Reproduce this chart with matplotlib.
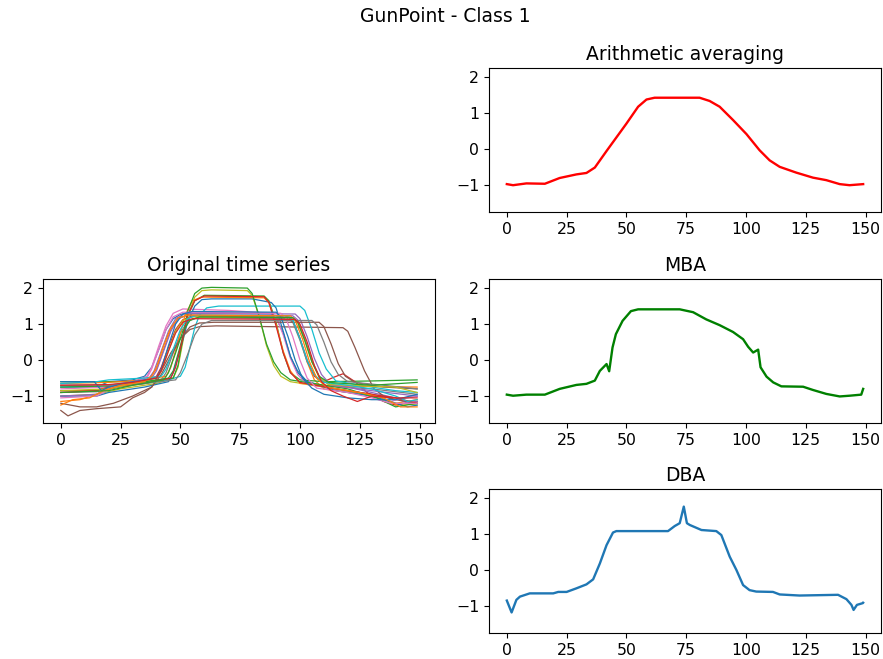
"""Recreate the GunPoint class 1 averaging comparison figure."""

import matplotlib
matplotlib.use("Agg")
from matplotlib import pyplot as plt

# each original series as (x, y) breakpoints
original_series = [
    [(0, -0.75), (15, -0.75), (20, -0.6), (30, -0.55), (35, -0.45), (38, -0.2), (41, 0.3), (44, 0.85), (47, 1.15), (50, 1.27), (54, 1.3), (88, 1.28), (90, 1.18), (93, 0.75), (96, 0.1), (99, -0.35), (103, -0.6), (115, -0.8), (130, -0.95), (140, -1.1), (149, -1.0)],
    [(0, -1.15), (8, -1.1), (15, -0.95), (20, -0.75), (30, -0.65), (37, -0.5), (40, -0.25), (43, 0.3), (46, 0.85), (49, 1.15), (53, 1.25), (95, 1.22), (97, 1.1), (100, 0.6), (103, -0.05), (106, -0.55), (110, -0.8), (120, -0.9), (132, -1.0), (140, -1.2), (149, -1.1)],
    [(0, -0.6), (20, -0.6), (35, -0.6), (45, -0.5), (47, -0.3), (50, 0.4), (53, 1.2), (56, 1.65), (60, 1.8), (85, 1.78), (87, 1.65), (90, 1.05), (93, 0.2), (96, -0.35), (100, -0.55), (110, -0.6), (130, -0.58), (149, -0.55)],
    [(0, -0.85), (15, -0.85), (20, -0.72), (35, -0.6), (40, -0.45), (42, -0.2), (45, 0.35), (48, 0.85), (51, 1.12), (55, 1.22), (95, 1.2), (97, 1.1), (100, 0.6), (103, 0.0), (106, -0.45), (110, -0.6), (114, -0.48), (118, -0.38), (123, -0.6), (128, -0.9), (135, -1.15), (140, -1.25), (149, -1.15)],
    [(0, -0.7), (20, -0.7), (30, -0.6), (38, -0.5), (40, -0.3), (43, 0.25), (46, 0.8), (49, 1.15), (53, 1.25), (97, 1.23), (99, 1.12), (102, 0.6), (105, 0.0), (108, -0.45), (112, -0.68), (120, -0.75), (130, -0.9), (140, -1.05), (145, -1.2), (149, -1.15)],
    [(0, -1.4), (3, -1.55), (8, -1.4), (15, -1.35), (25, -1.3), (30, -1.05), (35, -0.9), (38, -0.75), (42, -0.3), (46, 0.2), (50, 0.6), (54, 0.85), (58, 0.93), (65, 0.95), (118, 0.9), (120, 0.8), (123, 0.35), (127, -0.3), (131, -0.8), (135, -1.0), (140, -1.1), (149, -1.2)],
    [(0, -0.8), (20, -0.75), (30, -0.6), (36, -0.45), (38, -0.2), (41, 0.4), (44, 0.95), (47, 1.3), (51, 1.42), (70, 1.38), (88, 1.3), (90, 1.2), (93, 0.7), (96, 0.05), (99, -0.4), (103, -0.68), (115, -0.8), (125, -0.9), (133, -1.1), (138, -1.15), (143, -1.05), (149, -1.0)],
    [(0, -0.9), (15, -0.88), (25, -0.75), (35, -0.65), (42, -0.55), (44, -0.35), (47, 0.2), (50, 0.75), (53, 1.08), (57, 1.18), (95, 1.15), (97, 1.05), (100, 0.55), (103, -0.05), (107, -0.5), (111, -0.72), (130, -0.8), (149, -0.95)],
    [(0, -1.0), (15, -0.95), (25, -0.8), (40, -0.65), (47, -0.5), (49, -0.2), (51, 0.5), (53, 1.2), (56, 1.75), (59, 1.93), (63, 1.95), (78, 1.93), (80, 1.8), (83, 1.2), (86, 0.4), (89, -0.15), (92, -0.45), (96, -0.6), (115, -0.8), (130, -1.0), (140, -1.2), (149, -1.25)],
    [(0, -0.75), (20, -0.7), (35, -0.65), (45, -0.55), (50, -0.45), (52, -0.2), (54, 0.35), (56, 0.9), (58, 1.25), (61, 1.45), (66, 1.5), (100, 1.5), (102, 1.38), (105, 0.85), (108, 0.2), (111, -0.25), (115, -0.58), (130, -0.75), (140, -0.85), (149, -0.9)],
    [(0, -1.0), (15, -1.0), (20, -0.9), (35, -0.75), (45, -0.6), (47, -0.35), (50, 0.3), (53, 1.05), (56, 1.5), (59, 1.68), (63, 1.7), (80, 1.7), (88, 1.6), (90, 1.45), (93, 0.8), (96, 0.1), (99, -0.3), (103, -0.6), (115, -0.85), (130, -1.0), (140, -1.2), (145, -1.3), (149, -1.25)],
    [(0, -0.65), (20, -0.62), (35, -0.55), (44, -0.45), (46, -0.2), (49, 0.5), (52, 1.25), (55, 1.65), (59, 1.75), (85, 1.73), (87, 1.6), (90, 1.0), (93, 0.25), (96, -0.3), (100, -0.65), (115, -0.72), (149, -0.75)],
    [(0, -0.75), (20, -0.72), (35, -0.6), (47, -0.5), (49, -0.15), (51, 0.6), (53, 1.35), (56, 1.85), (59, 2.0), (63, 2.02), (78, 2.0), (80, 1.85), (83, 1.2), (86, 0.45), (89, -0.05), (92, -0.35), (96, -0.55), (120, -0.8), (132, -1.05), (140, -1.3), (149, -1.2)],
    [(0, -0.9), (15, -0.85), (20, -0.75), (35, -0.65), (46, -0.5), (48, -0.2), (51, 0.6), (53, 1.25), (56, 1.65), (60, 1.78), (85, 1.76), (87, 1.6), (90, 0.95), (93, 0.2), (96, -0.35), (100, -0.62), (115, -0.8), (130, -0.95), (140, -1.05), (149, -1.2)],
    [(0, -1.0), (15, -0.95), (22, -0.7), (30, -0.6), (37, -0.5), (39, -0.3), (42, 0.25), (45, 0.8), (48, 1.15), (52, 1.3), (98, 1.28), (100, 1.15), (103, 0.65), (106, 0.05), (109, -0.4), (113, -0.7), (130, -0.85), (149, -1.0)],
    [(0, -1.2), (8, -1.3), (15, -1.3), (22, -1.2), (30, -1.0), (38, -0.75), (42, -0.4), (46, 0.1), (50, 0.6), (54, 0.92), (58, 1.03), (64, 1.05), (108, 1.05), (110, 0.93), (113, 0.45), (116, -0.1), (119, -0.45), (123, -0.62), (135, -0.75), (149, -0.8)],
    [(0, -1.05), (15, -1.0), (22, -0.75), (30, -0.62), (36, -0.5), (38, -0.25), (41, 0.3), (44, 0.85), (47, 1.2), (51, 1.33), (92, 1.3), (94, 1.18), (97, 0.65), (100, 0.0), (103, -0.5), (107, -0.78), (120, -0.9), (130, -1.05), (138, -1.2), (149, -1.2)],
    [(0, -0.7), (20, -0.7), (35, -0.65), (48, -0.55), (50, -0.35), (53, 0.15), (56, 0.7), (59, 1.0), (63, 1.1), (105, 1.1), (107, 0.98), (110, 0.5), (113, -0.05), (116, -0.4), (120, -0.6), (135, -0.7), (149, -0.8)],
    [(0, -0.85), (20, -0.8), (30, -0.65), (40, -0.5), (42, -0.3), (45, 0.25), (48, 0.8), (51, 1.1), (55, 1.2), (97, 1.18), (99, 1.06), (102, 0.55), (105, -0.05), (108, -0.48), (112, -0.68), (140, -0.75), (149, -0.9)],
    [(0, -0.65), (15, -0.6), (20, -0.55), (35, -0.5), (42, -0.45), (44, -0.25), (47, 0.3), (50, 0.85), (53, 1.15), (57, 1.25), (95, 1.23), (97, 1.12), (100, 0.6), (103, 0.0), (106, -0.42), (110, -0.62), (120, -0.7), (130, -0.8), (140, -1.0), (145, -1.15), (149, -1.1)],
    [(0, -0.6), (14, -0.6), (17, -0.85), (20, -0.75), (30, -0.6), (40, -0.5), (42, -0.25), (45, 0.4), (48, 1.0), (51, 1.28), (55, 1.35), (90, 1.33), (92, 1.2), (95, 0.65), (98, 0.0), (101, -0.5), (105, -0.78), (110, -0.95), (120, -1.05), (130, -1.1), (140, -1.1), (149, -0.95)],
    [(0, -1.25), (5, -1.1), (12, -1.05), (18, -0.85), (25, -0.7), (35, -0.6), (38, -0.45), (40, -0.2), (43, 0.4), (46, 0.9), (49, 1.17), (53, 1.25), (96, 1.23), (98, 1.1), (101, 0.6), (104, -0.05), (107, -0.5), (111, -0.75), (125, -0.9), (135, -1.05), (142, -1.3), (149, -1.3)],
    [(0, -0.9), (20, -0.85), (30, -0.7), (43, -0.55), (45, -0.35), (48, 0.2), (51, 0.8), (54, 1.1), (58, 1.2), (97, 1.18), (99, 1.06), (102, 0.55), (105, -0.05), (108, -0.45), (112, -0.62), (130, -0.7), (149, -0.62)],
    [(0, -0.7), (20, -0.68), (30, -0.62), (40, -0.5), (42, -0.3), (45, 0.25), (48, 0.75), (51, 1.05), (55, 1.15), (98, 1.13), (100, 1.0), (103, 0.5), (106, -0.15), (109, -0.6), (113, -0.85), (118, -1.0), (124, -1.15), (130, -1.0), (140, -1.05), (149, -1.05)],
]

# arithmetic mean of the series
mean_x = [0, 2.6, 8.2, 15.9, 22.1, 29.1, 33.3, 36.8, 41.7, 50, 54.9, 58.4, 61.8, 80.6, 84.8, 89,
          94.6, 100.2, 105.7, 109.9, 114.1, 121, 128, 133.6, 139.2, 143.3, 149]
mean_y = [-0.97, -1.0, -0.95, -0.96, -0.80, -0.70, -0.66, -0.51, -0.05, 0.71, 1.18, 1.38, 1.43, 1.43,
          1.34, 1.18, 0.81, 0.42, -0.03, -0.31, -0.49, -0.65, -0.79, -0.86, -0.97, -1.0, -0.97]

# MBA average
mba_x = [0, 2.6, 8.2, 15.9, 22.1, 29.1, 33.3, 36.8, 38.9, 41.7, 42.8, 44.2, 45.6, 48.4, 51.9, 54.9,
         72.3, 77.9, 83.4, 89, 94.6, 98.8, 100.9, 103, 105.1, 106.1, 108.6, 111.4, 114.8, 123.9,
         128, 133.6, 139.2, 143.3, 148.2, 149]
mba_y = [-0.96, -0.99, -0.96, -0.96, -0.80, -0.69, -0.66, -0.57, -0.30, -0.11, -0.31, 0.35, 0.72,
         1.09, 1.36, 1.41, 1.41, 1.33, 1.13, 0.97, 0.78, 0.58, 0.37, 0.21, 0.29, -0.20, -0.46, -0.62,
         -0.73, -0.74, -0.83, -0.94, -1.01, -0.99, -0.96, -0.80]

# DBA average
dba_x = [0, 2, 4, 5.5, 9.6, 19.4, 21.5, 25, 29.1, 33.3, 36.1, 38.9, 41.7, 44.4, 45.8, 67.4, 70.2,
         72.3, 74, 75.3, 76.5, 81.4, 87.6, 89.7, 93.2, 96, 98.8, 101.5, 104.3, 111.3, 114.1, 122.4,
         138.5, 142, 144.1, 145, 146.4, 148.9, 149]
dba_y = [-0.85, -1.18, -0.83, -0.74, -0.65, -0.65, -0.61, -0.61, -0.51, -0.40, -0.26, 0.18, 0.69,
         1.04, 1.08, 1.08, 1.22, 1.30, 1.76, 1.30, 1.25, 1.11, 1.08, 0.97, 0.37, 0.0, -0.42, -0.56,
         -0.60, -0.61, -0.68, -0.71, -0.69, -0.81, -0.97, -1.11, -0.97, -0.92, -0.91]

Y_LIMITS = (-1.75, 2.25)
X_TICKS = [0, 25, 50, 75, 100, 125, 150]

plt.rcParams["xtick.labelsize"] = 11.3
plt.rcParams["ytick.labelsize"] = 11.3
plt.rcParams["axes.titlesize"] = 13.5

fig = plt.figure(figsize=(8.83, 6.59), dpi=100)
fig.suptitle("GunPoint - Class 1", fontsize=13.5, x=0.504, y=0.99, va="top")

left, right, width, height = 0.0487, 0.5538, 0.4439, 0.2185
ax_orig = fig.add_axes([left, 0.358, width, height])
ax_mean = fig.add_axes([right, 0.678, width, height])
ax_mba = fig.add_axes([right, 0.358, width, height])
ax_dba = fig.add_axes([right, 0.0395, width, height])

#plot original series
for series in original_series:
    xs, ys = zip(*series)
    ax_orig.plot(xs, ys, linewidth=0.9)
ax_orig.set_title("Original time series")

ax_mean.plot(mean_x, mean_y, color="red", linewidth=1.7)
ax_mean.set_title("Arithmetic averaging")

ax_mba.plot(mba_x, mba_y, color="green", linewidth=1.7)
ax_mba.set_title("MBA")

ax_dba.plot(dba_x, dba_y, color="tab:blue", linewidth=1.7)
ax_dba.set_title("DBA")

for ax in (ax_orig, ax_mean, ax_mba, ax_dba):
    ax.set_ylim(*Y_LIMITS)
    ax.set_xlim(-7.45, 156.45)
    ax.set_xticks(X_TICKS)
    ax.set_yticks([-1, 0, 1, 2])

fig.savefig("out.png", dpi=100)
plt.close(fig)
